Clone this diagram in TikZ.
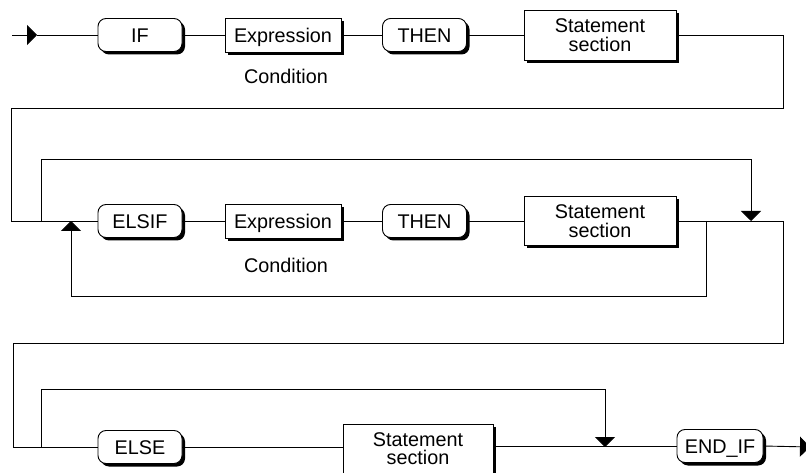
\documentclass[tikz,border=0pt]{standalone}
\usepackage{fontspec}
\setmainfont{Liberation Sans}
\usetikzlibrary{arrows.meta,shadows}
\begin{document}
\begin{tikzpicture}[x=1pt,y=-1pt,
  every node/.style={font=\fontsize{19.8}{18.5}\selectfont, inner sep=0pt},
  boxshadow/.style={drop shadow={shadow xshift=3pt,shadow yshift=-3pt,fill=black,opacity=1}},
  oneline/.style={text height=15pt, text depth=0pt},
  keyword/.style={draw, fill=white, rounded corners=8pt, minimum width=84pt,
    minimum height=33pt, line width=0.9pt, oneline, boxshadow},
  block/.style={draw, fill=white, minimum height=34pt, align=center,
    line width=0.9pt, boxshadow},
  flow/.style={line width=0.9pt},
  tip/.style={flow, -{Triangle[length=10pt,width=20pt]}}
]
\useasboundingbox (0,0) rectangle (806,473);

% ---- IF line
\node[keyword] (if) at (140,35) {IF};
\node[block, oneline, minimum width=116pt] (expr1) at (283,35) {Expression};
\node (cond1) at (286,76) {Condition};
\node[keyword] (then1) at (424.5,35) {THEN};
\node[block, minimum width=152pt, minimum height=50pt] (stmt1) at (600,35) {Statement\\section};

% ---- ELSIF line
\node[keyword] (elsif) at (140,221) {ELSIF};
\node[block, oneline, minimum width=116pt] (expr2) at (283,221) {Expression};
\node (cond2) at (286,265) {Condition};
\node[keyword] (then2) at (424.5,221) {THEN};
\node[block, minimum width=152pt, minimum height=49pt] (stmt2) at (600,221) {Statement\\section};

% ---- ELSE line
\node[keyword] (else) at (140,447) {ELSE};
\node[block, minimum width=150pt, minimum height=49pt] (stmt3) at (418,448.5) {Statement\\section};
\node[keyword, minimum width=86pt] (endif) at (720,446) {END\_IF};

% ---- junction points
\coordinate (start) at (12,35);
\coordinate (in) at (37,35);
\coordinate (r1a) at (783,35);
\coordinate (r1b) at (783,108);
\coordinate (l1a) at (11,108);
\coordinate (l1b) at (11,221);
\coordinate (b2a) at (41,221);
\coordinate (b2b) at (41,159);
\coordinate (b2c) at (751,159);
\coordinate (b2d) at (751,221);
\coordinate (lp1) at (706,221);
\coordinate (lp2) at (706,296);
\coordinate (lp3) at (71,296);
\coordinate (lp4) at (71,221);
\coordinate (r2a) at (783,221);
\coordinate (r2b) at (783,343);
\coordinate (l2a) at (13,343);
\coordinate (l2b) at (13,447);
\coordinate (b3a) at (41,447);
\coordinate (b3b) at (41,389);
\coordinate (b3c) at (605,389);
\coordinate (b3d) at (605,447);
\coordinate (out) at (810,447);

% ---- IF line connectors
\draw[tip] (start) -- (in);
\draw[flow] (in) -- (if.west);
\draw[flow] (if.east) -- (expr1.west);
\draw[flow] (expr1.east) -- (then1.west);
\draw[flow] (then1.east) -- (stmt1.west);
\draw[flow] (stmt1.east) -- (r1a) -- (r1b) -- (l1a) -- (l1b) -- (elsif.west);

% ---- ELSIF line connectors
\draw[flow] (elsif.east) -- (expr2.west);
\draw[flow] (expr2.east) -- (then2.west);
\draw[flow] (then2.east) -- (stmt2.west);
\draw[flow] (stmt2.east) -- (r2a) -- (r2b) -- (l2a) -- (l2b) -- (else.west);
\draw[tip] (b2a) -- (b2b) -- (b2c) -- (b2d);
\draw[tip] (lp1) -- (lp2) -- (lp3) -- (lp4);

% ---- ELSE line connectors
\draw[flow] (else.east) -- (stmt3.west |- else.east);
\draw[flow] (stmt3.east |- endif.west) -- (endif.west);
\draw[tip] (b3a) -- (b3b) -- (b3c) -- (b3d);
\draw[tip] (endif.east) -- (out);
\end{tikzpicture}
\end{document}
